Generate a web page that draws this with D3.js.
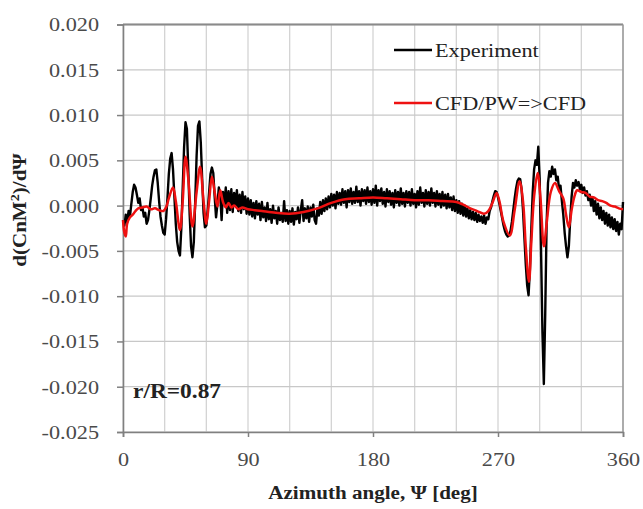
<!DOCTYPE html>
<html>
<head>
<meta charset="utf-8">
<script src="https://cdn.jsdelivr.net/npm/d3@7"></script>
<style>
  body { margin: 0; background: #fff; }
  text { font-family: "Liberation Serif", "Times New Roman", serif; }
</style>
</head>
<body>
<script>
// y values below are read in thousandths (x 1e-3)
var milli = 1e-3

// experiment: one value per degree, 0..360
var expAngles = d3.range(0, 361)
var expValues = [
  -1.6, -2.2, -1.0, -1.8, -0.6, -1.2, 0.2, 1.5, 2.3, 2.0,
  1.2, 0.3, 0.8, -0.5, -0.2, -1.2, -0.8, -2.0, -1.6, -0.5,
  0.8, 2.2, 3.2, 3.9, 4.0, 2.5, 0.5, -1.2, -2.2, -3.0,
  -3.2, -1.5, 0.8, 3.5, 5.2, 5.8, 4.0, 1.0, -2.0, -4.0,
  -5.0, -5.5, -2.5, 2.0, 6.5, 9.2, 8.5, 4.0, -1.0, -4.5,
  -5.7, -4.0, 0.5, 5.5, 8.8, 9.3, 7.0, 3.0, -0.8, -2.4,
  -2.2, -0.5, 1.5, 3.5, 4.2, 3.6, 1.0, -1.3, 0.2, 2.0,
  1.2, -1.6, 1.5, 0.2, 2.0, -0.8, 1.6, -0.5, 1.8, -0.7,
  1.4, 0.0, 1.7, -0.6, 1.2, -0.8, 1.5, -0.4, 1.0, -0.9,
  0.8, -1.0, 0.6, -1.2, 0.3, -1.4, 0.5, -1.0, 0.2, -1.6,
  0.4, -1.3, -0.2, -1.7, 0.3, -1.5, -0.4, -1.9, 0.0, -1.4,
  -0.6, -2.0, -0.2, -1.6, -0.8, -1.8, 0.5, -1.7, -0.5, -2.0,
  -0.6, -1.8, -0.3, -2.1, -0.7, -1.5, -0.2, -1.9, -0.5, 0.6,
  -1.7, -0.3, -1.4, -0.1, -1.8, -0.2, -1.2, 0.1, -1.6, -2.0,
  -0.3, -1.1, 0.4, -0.9, 0.6, -0.6, 0.8, -0.4, 1.0, -0.2,
  1.3, 0.0, 1.2, -0.3, 1.5, 0.2, 1.4, 0.1, 1.8, 0.3,
  1.6, -0.2, 1.7, 0.4, 1.9, 0.2, 1.5, 0.3, 2.1, 0.4,
  1.6, 0.0, 1.8, 0.5, 1.7, 0.2, 2.0, 0.4, 1.6, 0.1,
  1.8, 0.3, 2.2, 0.0, 1.7, 0.5, 1.9, 0.2, 1.5, -0.1,
  1.8, 0.4, 1.6, 0.1, 1.4, -0.2, 1.7, 0.3, 1.5, 0.0,
  1.9, 0.2, 1.4, -0.1, 1.6, 0.3, 1.5, 0.0, 1.8, 0.2,
  1.3, -0.2, 1.6, 0.1, 2.0, 0.3, 1.4, -0.1, 1.7, 0.2,
  1.5, 0.0, 1.9, 0.3, 1.4, -0.1, 1.6, 0.1, 1.3, -0.2,
  1.5, 0.0, 1.2, -0.3, 1.3, -0.2, 0.9, -0.5, 1.0, -0.6,
  0.6, -0.8, 0.5, -0.9, 0.2, -1.1, 0.0, -1.2, -0.3, -1.4,
  -0.5, -1.5, -0.7, -1.6, -0.8, -1.8, -1.0, -1.7, -1.2, -1.9,
  -1.1, -2.0, -1.3, -1.5, -0.6, -0.2, 0.5, 1.1, 1.6, 1.5,
  0.9, 0.2, -0.6, -1.4, -2.2, -2.8, -3.2, -3.4, -3.3, -2.8,
  -1.8, -0.5, 0.8, 1.9, 2.7, 3.0, 2.9, 1.8, -0.5, -3.5,
  -6.5, -8.8, -9.9, -7.0, -2.5, 1.5, 4.0, 5.0, 4.5, 6.5,
  3.0, -5.0, -14.0, -19.7, -12.0, -2.0, 2.5, 3.8, 3.2, 4.3,
  3.5, 4.0, 2.8, 3.2, 1.8, 2.2, 0.5, -1.0, -3.0, -4.5,
  -5.7, -4.5, -1.5, 1.0, 2.5, 2.0, 2.8, 2.2, 2.6, 1.8,
  2.3, 1.4, 2.0, 1.1, 1.6, 0.6, 1.2, 0.0, 0.9, -0.6,
  0.5, -1.0, 0.2, -1.4, -0.2, -1.6, -0.6, -2.0, -0.8, -2.2,
  -1.0, -2.4, -1.3, -2.6, -1.5, -2.8, -1.8, -3.2, -2.0, -2.6,
  0.4
]

// CFD/PW=>CFD, read at the turning points
var cfdAngles = [
  0, 1, 2, 3, 5, 7, 9, 11, 14, 17, 20, 23, 26, 29, 31, 33, 36, 38, 41, 43,
  45, 47, 50, 53, 55.5, 58, 60, 62, 64, 66, 68, 70, 72, 74, 76, 78, 80, 83, 86, 90,
  95, 100, 110, 120, 130, 140, 150, 160, 170, 180, 190, 200, 210, 220, 230, 240, 245, 250, 255, 260,
  263, 266, 269, 271, 274, 278.5, 282, 285.5, 288, 290, 292.3, 294, 296, 298.5, 300.5, 303, 305, 308, 311, 314,
  317, 319, 321, 323, 325, 327, 330, 333, 336, 339, 342, 345, 348, 351, 354, 357, 360
]
var cfdValues = [
  -1.6, -3.0, -3.4, -2.0, -1.3, -1.0, -0.6, -0.3, -0.2, -0.1, -0.4, -0.3, -0.5, -0.6, -0.2, 0.8, 2.0, 0.5, -2.7, 0.5,
  5.4, 3.0, -2.3, 1.5, 4.3, 0.5, -2.0, 0.5, 3.2, 1.5, -0.1, 1.7, 0.4, -0.2, 0.3, -0.2, 0.0, -0.4, -0.2, -0.4,
  -0.5, -0.6, -0.8, -0.9, -0.7, -0.3, 0.3, 0.7, 0.8, 0.9, 0.8, 0.7, 0.6, 0.6, 0.5, 0.4, 0.1, -0.3, -0.6, -0.9,
  -0.6, 0.3, 1.4, 0.5, -1.8, -3.3, -0.5, 2.7, 0.5, -4.5, -8.4, -4.0, 1.0, 3.6, 1.0, -4.5, -2.0, 1.5, 2.5, 1.6,
  0.8, -1.0, -2.4, -0.5, 1.0, 1.7, 1.5, 1.4, 1.0, 0.9, 0.6, 0.5, 0.3, 0.0, -0.1, -0.3, -0.4
]

var xTicks = [0, 90, 180, 270, 360]
var yTicks = [-0.025, -0.020, -0.015, -0.010, -0.005, 0.000, 0.005, 0.010, 0.015, 0.020]
var xGrid = d3.range(0, 361, 30)

var seriesNames = ["Experiment", "CFD/PW=>CFD"]
var seriesColors = ["#000000", "#ee1111"]

var w = 643
var h = 509
var plotLeft = 123, plotRight = 623, plotTop = 24.5, plotBottom = 432

var svg = d3.select("body")
    .append("svg")
    .attr("width", w)
    .attr("height", h)

var xScale = d3.scaleLinear().domain([0, 360]).range([plotLeft, plotRight])
var yScale = d3.scaleLinear().domain([-0.025, 0.020]).range([plotBottom, plotTop])

// gridlines
svg.append("g")
    .selectAll("line")
    .data(xGrid)
    .enter()
    .append("line")
    .attr("x1", function(d) { return xScale(d) })
    .attr("x2", function(d) { return xScale(d) })
    .attr("y1", plotTop)
    .attr("y2", plotBottom)
    .attr("stroke", "#d4d4d4")
    .attr("stroke-width", 1.3)

svg.append("g")
    .selectAll("line")
    .data(yTicks)
    .enter()
    .append("line")
    .attr("x1", plotLeft)
    .attr("x2", plotRight)
    .attr("y1", function(d) { return yScale(d) })
    .attr("y2", function(d) { return yScale(d) })
    .attr("stroke", "#c8c8c8")
    .attr("stroke-width", 1.3)

// frame top / right
svg.append("line")
    .attr("x1", plotLeft).attr("x2", plotRight).attr("y1", plotTop).attr("y2", plotTop)
    .attr("stroke", "#8a8a8a").attr("stroke-width", 1.8)
svg.append("line")
    .attr("x1", plotRight).attr("x2", plotRight).attr("y1", plotTop).attr("y2", plotBottom)
    .attr("stroke", "#9a9a9a").attr("stroke-width", 1.5)

// axes
var fmt3 = d3.format(".3f")
var xAxis = d3.axisBottom(xScale)
    .tickValues(xTicks)
    .tickSize(5)
    .tickFormat(d3.format("d"))

var yAxis = d3.axisLeft(yScale)
    .tickValues(yTicks)
    .tickSize(6)
    .tickFormat(function(d) { return fmt3(d).replace("\u2212", "-") })

var gx = svg.append("g")
    .attr("transform", "translate(0," + plotBottom + ")")
    .call(xAxis)
var gy = svg.append("g")
    .attr("transform", "translate(" + plotLeft + ",0)")
    .call(yAxis)

gx.select(".domain").attr("stroke", "#808080").attr("stroke-width", 1.6)
gy.select(".domain").attr("stroke", "#808080").attr("stroke-width", 1.6)
gx.selectAll(".tick line").attr("stroke", "#808080").attr("stroke-width", 1.5)
gy.selectAll(".tick line").attr("stroke", "#808080").attr("stroke-width", 1.5)
gx.selectAll(".tick text")
    .attr("font-family", "'Liberation Serif', serif")
    .attr("font-size", 19)
    .attr("fill", "#4a4a4a")
    .attr("dy", null)
    .attr("y", 34)
gy.selectAll(".tick text")
    .attr("font-family", "'Liberation Serif', serif")
    .attr("font-size", 19)
    .attr("fill", "#4a4a4a")
    .attr("x", -24)
    .attr("dy", "0.34em")

// series
var line = d3.line()
    .x(function(d) { return xScale(d[0]) })
    .y(function(d) { return yScale(d[1] * milli) })

var expData = d3.zip(expAngles, expValues)
var cfdData = d3.zip(cfdAngles, cfdValues)

svg.append("path")
    .datum(expData)
    .attr("d", line)
    .attr("fill", "none")
    .attr("stroke", seriesColors[0])
    .attr("stroke-width", 2.4)
    .attr("stroke-linejoin", "round")

svg.append("path")
    .datum(cfdData)
    .attr("d", line.curve(d3.curveCatmullRom.alpha(0.5)))
    .attr("fill", "none")
    .attr("stroke", seriesColors[1])
    .attr("stroke-width", 2.5)
    .attr("stroke-linejoin", "round")

// legend
var legend = svg.append("g")
legend.selectAll("line")
    .data(seriesNames)
    .enter()
    .append("line")
    .attr("x1", 394)
    .attr("x2", 432)
    .attr("y1", function(d, i) { return 50 + i * 53 })
    .attr("y2", function(d, i) { return 50 + i * 53 })
    .attr("stroke", function(d, i) { return seriesColors[i] })
    .attr("stroke-width", 2.5)
legend.selectAll("text")
    .data(seriesNames)
    .enter()
    .append("text")
    .attr("x", 435)
    .attr("y", function(d, i) { return 57 + i * 53 })
    .attr("font-size", 19)
    .attr("fill", "#222")
    .text(function(d) { return d })

// annotation
svg.append("text")
    .attr("x", 133)
    .attr("y", 398)
    .attr("font-size", 20)
    .attr("font-weight", "bold")
    .attr("fill", "#222")
    .text("r/R=0.87")

// axis titles
svg.append("text")
    .attr("text-anchor", "middle")
    .attr("transform", "translate(373,499)")
    .attr("font-size", 18)
    .attr("font-weight", "bold")
    .attr("fill", "#222")
    .text("Azimuth angle, \u03A8 [deg]")

var yl = svg.append("text")
    .attr("text-anchor", "middle")
    .attr("transform", "translate(26,210) rotate(-90)")
    .attr("font-size", 18)
    .attr("font-weight", "bold")
    .attr("fill", "#222")
yl.append("tspan").text("d(CnM")
yl.append("tspan").attr("baseline-shift", "super").attr("font-size", 12).text("2")
yl.append("tspan").text(")/d\u03A8")

// the source picture is stretched sideways, so widen the text to match
svg.selectAll("text").each(function() {
    var tl = this.getComputedTextLength()
    this.setAttribute("textLength", tl * 1.17)
    this.setAttribute("lengthAdjust", "spacingAndGlyphs")
})
</script>
</body>
</html>
